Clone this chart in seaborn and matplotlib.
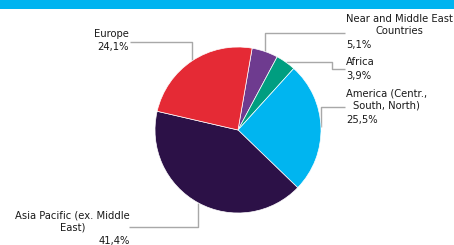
import numpy as np
import matplotlib
matplotlib.use("Agg")
import matplotlib.pyplot as plt
import seaborn as sns

# ---- data ----
regions = ["Near and Middle East\nCountries", "Africa", "America (Centr.,\nSouth, North)",
           "Asia Pacific (ex. Middle\nEast)", "Europe"]
shares = [5.1, 3.9, 25.5, 41.4, 24.1]
pct_labels = ["5,1%", "3,9%", "25,5%", "41,4%", "24,1%"]
colors = ["#6E3B8F", "#009E80", "#00B5F0", "#2C1147", "#E52A35"]

sns.set_theme(style="white")
plt.rcParams['font.family'] = ['DejaVu Sans']

W, H = 454, 245
fig = plt.figure(figsize=(W / 100, H / 100), dpi=100)
ax = fig.add_axes([0, 0, 1, 1])

def Y(y):  # pixel-from-top -> data
    return H - y

cx, cy, R = 238, 130, 83
start = 80.2
ax.pie(shares, colors=colors, startangle=start, counterclock=False,
       center=(cx, Y(cy)), radius=R,
       wedgeprops=dict(edgecolor="white", linewidth=0.5), frame=False)

ax.set_xlim(0, W)
ax.set_ylim(0, H)
ax.set_aspect("auto")
ax.axis("off")

# top band
ax.axhspan(Y(9), H, color="#00B4F0", lw=0)

# leader lines from slice mid angles
total = sum(shares)
cum = np.cumsum([0] + shares)
mids = [start - 360 * (cum[i] + shares[i] / 2) / total for i in range(len(shares))]
edge = [(cx + R * np.cos(np.radians(a)), cy - R * np.sin(np.radians(a))) for a in mids]

lc = "#A8A8A8"
def line(pts):
    xs = [p[0] for p in pts]
    ys = [Y(p[1]) for p in pts]
    ax.plot(xs, ys, color=lc, lw=1, zorder=0, solid_capstyle="butt")

ex, ey = edge[0]; line([(ex, ey), (ex, 32.7), (345, 32.7)])
ex, ey = edge[1]; line([(ex, ey), (331.7, ey), (331.7, 69.3), (345, 69.3)])
ex, ey = edge[2]; line([(ex, ey), (ex, 106.7), (345, 106.7)])
ex, ey = edge[3]; line([(ex, ey), (ex, 227), (129, 227)])
ex, ey = edge[4]; line([(ex, ey), (ex, 42), (130, 42)])

fs = 7.2
tc = "#1A1A1A"
# (x, name_y, pct_y, side)
pos = [(346, 25, 45, "left"), (346, 62, 76, "left"), (346, 99.5, 120, "left"),
       (130, 221, 241, "right"), (129, 34, 47, "right")]
for name, pct, (x, ny, py, side) in zip(regions, pct_labels, pos):
    ax.text(x, Y(ny), name, ha=side, va="center", multialignment="center",
            fontsize=fs, color=tc, linespacing=1.25)
    ax.text(x, Y(py), pct, ha=side, va="center", fontsize=fs, color=tc)

fig.savefig("out.png", dpi=100)
